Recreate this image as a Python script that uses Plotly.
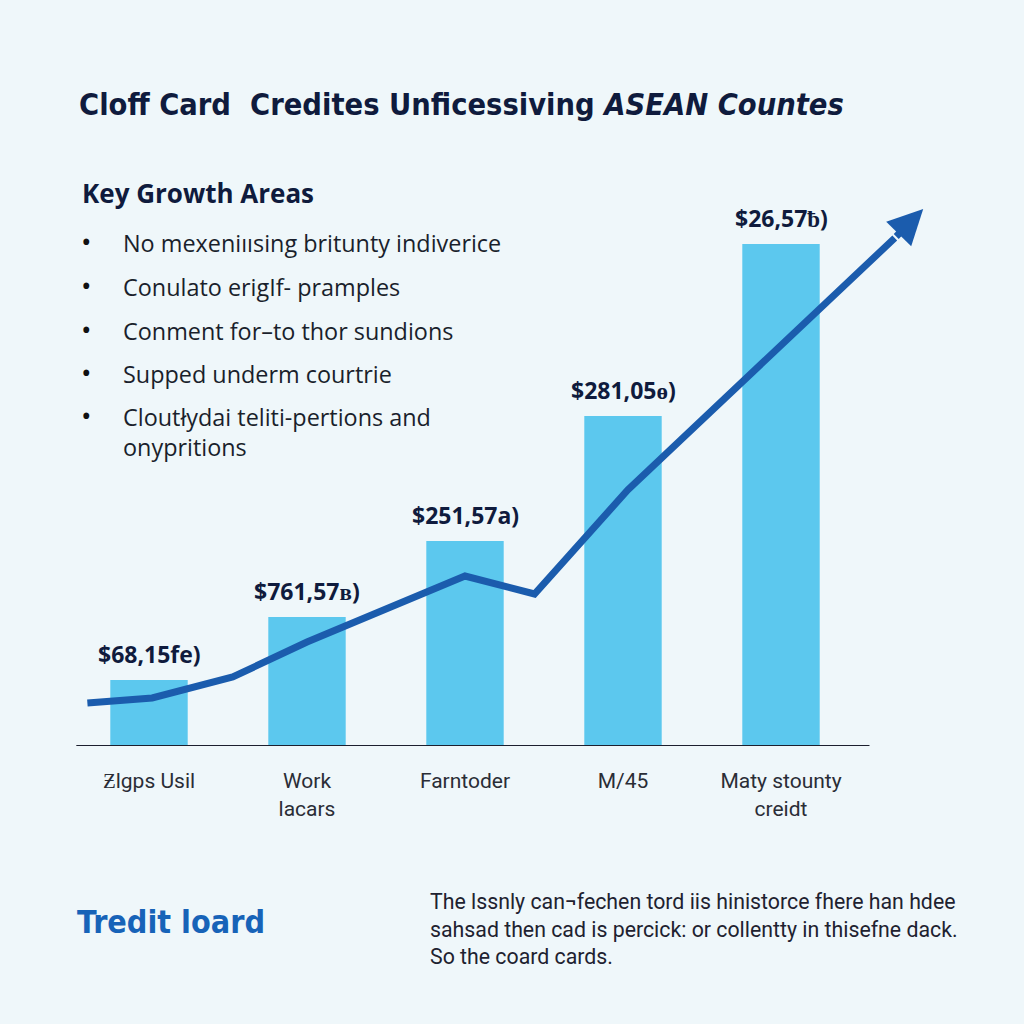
import plotly.graph_objects as go

# chart data
categories = ["Ƶlgps Usil", "Work<br>lacars", "Farntoder", "M/45", "Maty stounty<br>creidt"]
bar_values = [66, 129, 205, 330, 502]
bar_labels = ["$68,15fe)", "$761,57ʙ)", "$251,57a)", "$281,05ɵ)", "$26,57ƀ)"]

# trend line (last point = arrow tip)
trend_x = [-0.39, 0.02, 0.53, 1.0, 2.0, 2.44, 3.03, 4.72, 4.90]
trend_y = [43, 48, 69, 104, 170, 152, 256, 508, 537]

title_txt = "Cloff Card  Credites Unficessiving <i>ASEAN Countes</i>"
side_title = "Key Growth Areas"
bullets = [
    "No mexeniıısing britunty indiverice",
    "Conulato erigIf- pramples",
    "Conment for–to thor sundions",
    "Supped underm courtrie",
    "Cloutłydai teliti-pertions and<br>onypritions",
]
brand = "Tredit loard"
footer = ("The lssnly can¬fechen tord iis hinistorce fhere han hdee<br>"
          "sahsad then cad is percick: or collentty in thisefne dack.<br>"
          "So the coard cards.")

W = H = 1024
COND = "DejaVu Sans Condensed, Liberation Sans Narrow, Roboto, sans-serif"


def px(x):
    return x / W


def py(y):
    return 1 - y / H


BAR = "#5CC8EE"
LINE = "#1B5CAD"
NAVY = "#0F1B3D"

fig = go.Figure()

fig.add_trace(go.Bar(x=list(range(len(categories))), y=bar_values, width=0.49,
                     marker=dict(color=BAR, line=dict(width=0)), hoverinfo="skip"))

fig.add_trace(go.Scatter(x=trend_x[:-1], y=trend_y[:-1], mode="lines",
                         line=dict(color=LINE, width=7), hoverinfo="skip"))

# arrow head
fig.add_annotation(x=trend_x[-1], y=trend_y[-1], ax=trend_x[-2], ay=trend_y[-2],
                   xref="x", yref="y", axref="x", ayref="y", text="",
                   showarrow=True, arrowhead=2, arrowsize=1, arrowwidth=7,
                   arrowcolor=LINE, standoff=0)

# value labels above bars
for i, (v, lab) in enumerate(zip(bar_values, bar_labels)):
    fig.add_annotation(x=i, y=v, xref="x", yref="y", text="<b>" + lab + "</b>",
                       showarrow=False, yanchor="bottom", yshift=8,
                       font=dict(family="Open Sans", size=23, color=NAVY))

# baseline
fig.add_shape(type="line", x0=-0.46, x1=4.56, y0=0, y1=0, xref="x", yref="y",
              line=dict(color="#1C1F2E", width=2))

# title + side text
fig.add_annotation(x=px(77), y=py(104), xref="paper", yref="paper", xanchor="left",
                   yanchor="middle", showarrow=False, text="<b>" + title_txt + "</b>",
                   font=dict(family=COND, size=30.5, color=NAVY))
fig.add_annotation(x=px(80), y=py(193), xref="paper", yref="paper", xanchor="left",
                   yanchor="middle", showarrow=False, text="<b>" + side_title + "</b>",
                   font=dict(family="Open Sans", size=26, color=NAVY))

bullet_y = [241, 285, 329, 372, 415]
for yy, t in zip(bullet_y, bullets):
    fig.add_annotation(x=px(86), y=py(yy), xref="paper", yref="paper", xanchor="center",
                       yanchor="middle", showarrow=False, text="•",
                       font=dict(family="Open Sans", size=28, color="#111"))
    fig.add_annotation(x=px(121), y=py(yy - 16), xref="paper", yref="paper", xanchor="left",
                       yanchor="top", align="left", showarrow=False, text=t,
                       font=dict(family="Open Sans", size=23.4, color="#1A1F2C"))

fig.add_annotation(x=px(75), y=py(922), xref="paper", yref="paper", xanchor="left",
                   yanchor="middle", showarrow=False, text="<b>" + brand + "</b>",
                   font=dict(family=COND, size=32, color="#1763B8"))
fig.add_annotation(x=px(428), y=py(887), xref="paper", yref="paper", xanchor="left",
                   yanchor="top", align="left", showarrow=False, text=footer,
                   font=dict(family="Roboto", size=21.3, color="#1E2230"))

fig.update_layout(
    width=W, height=H, margin=dict(l=0, r=0, t=0, b=0),
    paper_bgcolor="#EFF7FA", plot_bgcolor="rgba(0,0,0,0)",
    showlegend=False,
    xaxis=dict(domain=[px(70), px(939)], range=[-0.5, 5.0], tickvals=list(range(len(categories))),
               ticktext=categories, showgrid=False, zeroline=False, showline=False,
               ticks="outside", ticklen=16, tickcolor="rgba(0,0,0,0)",
               tickfont=dict(family="Roboto", size=21, color="#2A2D36")),
    yaxis=dict(domain=[py(746), py(146)], range=[0, 600], visible=False),
)

fig.write_html("out.html", config={"displayModeBar": False},
               post_script="document.body.style.margin='0';")
